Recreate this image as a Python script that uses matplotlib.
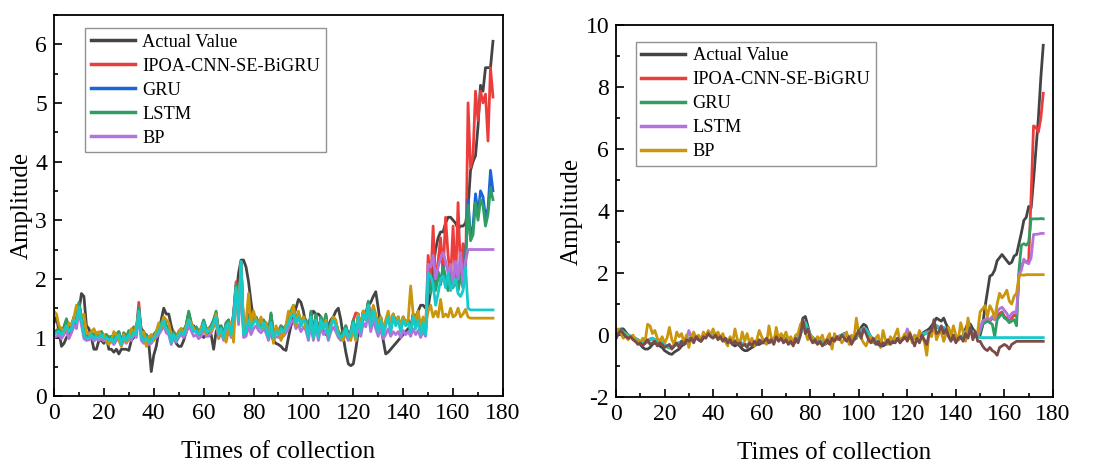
import numpy as np
import matplotlib.pyplot as plt
from matplotlib.ticker import MultipleLocator

plt.rcParams['font.family'] = 'Liberation Serif'
plt.rcParams['axes.unicode_minus'] = False

t = np.arange(177)

# ---------- data set 1 ----------
act1 = [1.25, 1.35, 1.10, 0.85, 0.90, 1.00, 1.05, 1.10, 1.20, 1.30,
        1.45, 1.75, 1.70, 1.20, 1.15, 1.00, 0.80, 0.80, 0.95, 0.95,
        0.90, 1.00, 0.80, 0.80, 0.75, 0.80, 0.72, 0.80, 0.80, 0.80,
        0.78, 0.95, 1.00, 1.10, 1.40, 1.15, 1.10, 1.00, 0.90, 0.42,
        0.70, 0.85, 1.10, 1.30, 1.50, 1.40, 1.40, 1.20, 1.05, 0.90,
        0.85, 0.85, 0.95, 1.10, 1.20, 1.15, 1.20, 1.10, 1.05, 1.05,
        1.00, 1.05, 1.10, 1.05, 0.80, 1.10, 1.20, 1.10, 1.05, 1.00,
        1.10, 1.20, 1.30, 1.70, 2.10, 2.32, 2.32, 2.20, 1.95, 1.60,
        1.30, 1.30, 1.25, 1.20, 1.25, 1.25, 1.15, 1.05, 0.95, 0.90,
        0.88, 0.85, 0.80, 0.78, 1.00, 1.20, 1.35, 1.50, 1.65, 1.60,
        1.45, 1.20, 1.20, 1.35, 1.45, 1.40, 1.40, 1.35, 1.10, 1.05,
        1.20, 1.30, 1.35, 1.45, 1.50, 1.30, 1.00, 0.75, 0.55, 0.52,
        0.55, 0.80, 1.10, 1.25, 1.30, 1.40, 1.55, 1.60, 1.70, 1.78,
        1.50, 1.20, 0.95, 0.72, 0.75, 0.80, 0.85, 0.90, 0.95, 1.00,
        1.05, 1.10, 1.15, 1.20, 1.25, 1.35, 1.45, 1.55, 1.55, 1.50,
        1.50, 1.80, 2.20, 2.50, 2.70, 2.80, 2.80, 2.95, 3.05, 3.05,
        3.00, 2.95, 2.85, 2.90, 2.90, 2.95, 3.20, 3.85, 4.00, 4.10,
        4.60, 5.30, 5.20, 5.60, 5.60, 5.60, 6.05]

ipoa1 = [1.10, 1.12, 1.15, 1.10, 1.18, 1.30, 1.15, 1.20, 1.35, 1.30,
         1.58, 1.35, 1.08, 1.00, 1.05, 1.10, 1.02, 1.08, 1.05, 1.10,
         1.02, 1.05, 1.00, 1.02, 0.98, 1.05, 1.10, 0.92, 1.08, 1.00,
         1.10, 1.05, 1.18, 1.10, 1.60, 1.05, 1.00, 1.05, 0.98, 1.00,
         1.05, 1.10, 1.18, 1.25, 1.33, 1.20, 1.15, 0.98, 1.10, 1.00,
         1.10, 1.15, 1.12, 1.20, 1.42, 1.25, 1.15, 1.18, 1.10, 1.15,
         1.28, 1.15, 1.15, 1.20, 1.30, 1.42, 1.10, 1.20, 1.05, 1.25,
         1.30, 1.10, 1.40, 1.95, 1.35, 2.28, 1.10, 1.15, 1.40, 1.20,
         1.30, 1.35, 1.25, 1.20, 1.30, 1.20, 1.05, 1.40, 1.05, 1.15,
         1.10, 1.20, 1.15, 1.20, 1.35, 1.45, 1.52, 1.30, 1.40, 1.25,
         1.35, 1.30, 1.05, 1.42, 1.05, 1.38, 1.05, 1.35, 1.20, 1.38,
         1.05, 1.25, 1.35, 1.25, 1.10, 1.05, 1.10, 1.20, 1.05, 1.10,
         1.30, 1.42, 1.40, 1.15, 1.45, 1.35, 1.60, 1.25, 1.50, 1.35,
         1.15, 1.35, 1.10, 1.25, 1.40, 1.15, 1.40, 1.25, 1.35, 1.15,
         1.35, 1.25, 1.30, 1.15, 1.40, 1.20, 1.35, 1.10, 1.30, 1.10,
         2.40, 1.90, 2.90, 1.90, 2.30, 2.70, 2.10, 3.05, 2.40, 2.00,
         2.90, 1.90, 3.30, 2.10, 2.60, 2.00, 5.00, 3.90, 4.10, 5.20,
         4.70, 5.20, 5.00, 5.15, 4.35, 5.60, 5.10]

gru1 = [1.08, 1.10, 1.14, 1.08, 1.16, 1.28, 1.12, 1.18, 1.33, 1.28,
        1.56, 1.33, 1.06, 0.99, 1.03, 1.08, 1.00, 1.06, 1.03, 1.08,
        1.00, 1.03, 0.98, 1.00, 0.96, 1.03, 1.08, 0.90, 1.06, 0.98,
        1.10, 1.03, 1.15, 1.08, 1.48, 1.03, 0.98, 1.03, 0.96, 0.98,
        1.03, 1.08, 1.15, 1.22, 1.32, 1.18, 1.13, 0.96, 1.08, 0.98,
        1.08, 1.13, 1.10, 1.20, 1.40, 1.23, 1.13, 1.16, 1.08, 1.13,
        1.28, 1.13, 1.13, 1.18, 1.28, 1.40, 1.08, 1.18, 1.03, 1.23,
        1.28, 1.08, 1.38, 1.88, 1.33, 2.28, 1.08, 1.13, 1.33, 1.18,
        1.28, 1.33, 1.23, 1.18, 1.28, 1.18, 1.03, 1.38, 1.03, 1.13,
        1.08, 1.18, 1.13, 1.18, 1.32, 1.42, 1.50, 1.28, 1.40, 1.23,
        1.33, 1.28, 1.03, 1.42, 1.03, 1.36, 1.03, 1.33, 1.18, 1.36,
        1.03, 1.23, 1.33, 1.23, 1.08, 1.03, 1.08, 1.18, 1.03, 1.08,
        1.28, 1.03, 1.38, 1.13, 1.43, 1.33, 1.60, 1.23, 1.48, 1.33,
        1.13, 1.33, 1.08, 1.23, 1.38, 1.13, 1.38, 1.23, 1.33, 1.13,
        1.33, 1.23, 1.28, 1.13, 1.38, 1.18, 1.33, 1.08, 1.28, 1.08,
        2.00, 1.78, 2.02, 1.82, 2.12, 1.92, 2.22, 2.02, 1.82, 2.08,
        1.88, 2.02, 1.82, 2.08, 1.88, 2.32, 3.35, 2.70, 2.90, 3.45,
        3.10, 3.50, 3.40, 3.05, 3.20, 3.85, 3.50]

lstm1 = [1.10, 1.12, 1.15, 1.10, 1.18, 1.32, 1.15, 1.20, 1.35, 1.30,
         1.60, 1.35, 1.08, 1.00, 1.05, 1.10, 1.02, 1.08, 1.05, 1.10,
         1.02, 1.05, 1.00, 1.02, 0.98, 1.05, 1.10, 0.92, 1.08, 1.00,
         1.12, 1.05, 1.18, 1.10, 1.52, 1.05, 1.00, 1.05, 0.98, 1.00,
         1.05, 1.10, 1.18, 1.25, 1.35, 1.20, 1.15, 0.98, 1.10, 1.00,
         1.10, 1.15, 1.12, 1.22, 1.45, 1.25, 1.15, 1.18, 1.10, 1.15,
         1.30, 1.15, 1.15, 1.20, 1.30, 1.45, 1.10, 1.20, 1.05, 1.25,
         1.30, 1.10, 1.40, 1.90, 1.35, 2.28, 1.10, 1.15, 1.35, 1.20,
         1.30, 1.35, 1.25, 1.20, 1.30, 1.20, 1.05, 1.42, 1.05, 1.15,
         1.10, 1.20, 1.15, 1.20, 1.35, 1.45, 1.55, 1.30, 1.42, 1.25,
         1.35, 1.30, 1.05, 1.45, 1.05, 1.40, 1.05, 1.35, 1.20, 1.40,
         1.05, 1.25, 1.35, 1.25, 1.10, 1.05, 1.10, 1.20, 1.05, 1.10,
         1.30, 1.05, 1.40, 1.15, 1.45, 1.35, 1.62, 1.25, 1.50, 1.35,
         1.15, 1.35, 1.10, 1.25, 1.40, 1.15, 1.40, 1.25, 1.35, 1.15,
         1.35, 1.25, 1.30, 1.15, 1.40, 1.20, 1.35, 1.10, 1.30, 1.10,
         2.05, 1.75, 2.00, 1.80, 2.10, 1.90, 2.20, 2.00, 1.80, 2.05,
         1.85, 2.00, 1.80, 2.05, 1.85, 2.30, 3.25, 2.65, 2.75, 3.30,
         3.00, 3.35, 3.25, 2.90, 3.10, 3.55, 3.35]

bp1 = [1.00, 1.02, 1.05, 0.98, 1.05, 1.12, 0.98, 1.08, 1.22, 1.15,
       1.45, 1.22, 0.98, 0.95, 0.96, 1.00, 0.94, 0.98, 0.95, 0.98,
       0.94, 0.96, 0.90, 0.94, 0.88, 0.95, 1.00, 0.85, 0.96, 0.90,
       0.98, 0.95, 1.05, 1.00, 1.40, 0.95, 0.90, 0.95, 0.88, 0.90,
       0.96, 1.00, 1.05, 1.12, 1.20, 1.08, 1.05, 0.88, 1.00, 0.92,
       1.00, 1.05, 1.00, 1.08, 1.22, 1.12, 1.02, 1.05, 0.98, 1.02,
       1.15, 1.02, 1.02, 1.08, 1.18, 1.25, 0.98, 1.08, 0.95, 1.12,
       1.18, 1.00, 1.28, 1.75, 1.22, 2.20, 1.00, 1.02, 1.20, 1.05,
       1.15, 1.20, 1.12, 1.08, 1.15, 1.08, 0.95, 1.15, 0.95, 1.02,
       1.00, 1.08, 1.02, 1.08, 1.15, 1.25, 1.30, 1.15, 1.22, 1.10,
       1.18, 1.12, 0.95, 1.22, 0.95, 1.18, 0.95, 1.18, 1.05, 1.12,
       0.95, 1.10, 1.18, 1.10, 1.00, 0.95, 1.00, 1.05, 0.95, 1.00,
       1.12, 0.95, 1.20, 1.02, 1.25, 1.18, 1.40, 1.10, 1.30, 1.15,
       1.02, 1.15, 0.98, 1.05, 1.15, 1.02, 1.10, 1.05, 1.10, 1.00,
       1.12, 1.05, 1.10, 1.02, 1.15, 1.05, 1.12, 1.00, 1.10, 1.02,
       2.25, 2.20, 2.40, 2.00, 2.20, 2.35, 2.45, 2.30, 2.10, 2.25,
       1.90, 2.30, 2.00, 2.45, 1.85, 2.30, 2.50, 2.50, 2.50, 2.50,
       2.50, 2.50, 2.50, 2.50, 2.50, 2.50, 2.50]

cyan1 = [1.05, 1.08, 1.10, 1.05, 1.12, 1.20, 1.10, 1.15, 1.30, 1.25,
         1.52, 1.30, 1.05, 0.98, 1.00, 1.05, 0.98, 1.02, 1.00, 1.05,
         0.98, 1.00, 0.95, 0.98, 0.92, 1.00, 1.05, 0.88, 1.02, 0.95,
         1.05, 1.00, 1.10, 1.05, 1.45, 1.00, 0.95, 1.00, 0.92, 0.95,
         1.00, 1.05, 1.10, 1.20, 1.28, 1.15, 1.10, 0.92, 1.05, 0.95,
         1.05, 1.10, 1.05, 1.15, 1.30, 1.20, 1.10, 1.12, 1.05, 1.10,
         1.25, 1.10, 1.10, 1.15, 1.25, 1.35, 1.05, 1.15, 1.00, 1.20,
         1.25, 1.05, 1.35, 1.85, 1.30, 2.30, 1.05, 1.10, 1.30, 1.15,
         1.25, 1.30, 1.20, 1.15, 1.25, 1.15, 1.00, 1.25, 1.00, 1.10,
         1.05, 1.15, 1.10, 1.15, 1.25, 1.35, 1.40, 1.25, 1.35, 1.20,
         1.30, 1.25, 1.00, 1.35, 1.00, 1.30, 1.00, 1.30, 1.15, 1.25,
         1.00, 1.20, 1.30, 1.20, 1.05, 1.00, 1.05, 1.15, 1.00, 1.05,
         1.25, 1.00, 1.35, 1.10, 1.40, 1.30, 1.55, 1.20, 1.45, 1.30,
         1.10, 1.30, 1.05, 1.20, 1.35, 1.10, 1.35, 1.20, 1.30, 1.10,
         1.30, 1.20, 1.25, 1.10, 1.35, 1.15, 1.30, 1.05, 1.25, 1.05,
         2.10, 2.05, 1.90, 1.55, 1.75, 2.00, 2.05, 1.85, 2.10, 1.80,
         1.90, 2.00, 1.75, 1.70, 1.80, 2.20, 1.50, 1.47, 1.47, 1.47,
         1.47, 1.47, 1.47, 1.47, 1.47, 1.47, 1.47]

gold1 = [1.45, 1.40, 1.20, 1.15, 1.10, 1.15, 1.25, 1.20, 1.35, 1.55,
         1.45, 1.35, 1.40, 1.10, 1.05, 1.10, 1.15, 1.05, 1.10, 1.00,
         1.05, 0.95, 0.88, 0.95, 1.10, 1.05, 0.95, 0.85, 1.05, 0.92,
         1.00, 1.15, 1.05, 1.20, 1.40, 1.05, 1.10, 0.85, 1.00, 1.05,
         0.95, 1.10, 1.25, 1.15, 1.35, 1.30, 1.25, 1.05, 1.00, 0.98,
         1.10, 1.15, 1.05, 1.20, 1.30, 1.25, 1.15, 1.10, 1.05, 1.18,
         1.20, 1.05, 1.15, 1.10, 1.20, 1.40, 1.00, 1.10, 1.05, 0.92,
         1.15, 1.25, 0.92, 1.80, 1.45, 2.25, 1.15, 1.25, 1.75, 1.20,
         1.45, 1.30, 1.20, 1.35, 1.15, 1.25, 1.10, 1.20, 0.90, 1.20,
         1.10, 0.95, 1.05, 1.20, 1.45, 1.35, 1.55, 1.20, 1.45, 1.20,
         1.35, 1.15, 1.10, 1.25, 1.00, 1.25, 1.05, 1.15, 1.20, 1.30,
         1.00, 1.20, 1.35, 1.30, 1.05, 1.00, 0.95, 1.10, 1.05, 0.95,
         1.20, 0.95, 1.40, 1.15, 1.45, 1.35, 1.50, 1.25, 1.55, 1.40,
         1.20, 1.35, 1.15, 1.30, 1.45, 1.20, 1.40, 1.25, 1.35, 1.20,
         1.35, 1.25, 1.30, 1.88, 1.40, 1.30, 1.45, 1.20, 1.35, 1.20,
         1.45, 1.55, 1.35, 1.45, 1.35, 1.65, 1.35, 1.40, 1.35, 1.50,
         1.35, 1.38, 1.50, 1.35, 1.40, 1.48, 1.35, 1.33, 1.33, 1.33,
         1.33, 1.33, 1.33, 1.33, 1.33, 1.33, 1.33]

# ---------- data set 2 ----------
act2 = [-0.10, 0.05, 0.20, 0.20, 0.10, 0.00, -0.05, -0.10, -0.20, -0.25,
        -0.30, -0.40, -0.45, -0.45, -0.40, -0.30, -0.25, -0.30, -0.35, -0.40,
        -0.50, -0.55, -0.60, -0.62, -0.55, -0.50, -0.45, -0.35, -0.30, -0.25,
        -0.20, -0.15, -0.10, -0.10, -0.15, -0.20, -0.10, 0.00, 0.05, 0.00,
        -0.05, 0.05, 0.00, -0.10, -0.15, -0.20, -0.25, -0.20, -0.30, -0.35,
        -0.30, -0.35, -0.45, -0.50, -0.50, -0.45, -0.40, -0.35, -0.30, -0.30,
        -0.25, -0.25, -0.20, -0.25, -0.20, -0.15, -0.10, -0.10, -0.05, -0.15,
        -0.20, -0.20, -0.25, -0.30, -0.20, -0.10, 0.20, 0.55, 0.60, 0.30,
        0.00, -0.10, -0.20, -0.25, -0.25, -0.30, -0.30, -0.25, -0.20, -0.15,
        -0.10, -0.10, -0.05, 0.00, 0.05, 0.00, -0.10, -0.20, -0.15, -0.10,
        0.10, 0.25, 0.35, 0.30, 0.10, -0.10, -0.20, -0.25, -0.30, -0.35,
        -0.35, -0.30, -0.25, -0.20, -0.25, -0.20, -0.15, -0.20, -0.15, -0.10,
        -0.05, -0.10, -0.15, -0.10, -0.05, 0.00, 0.05, 0.10, 0.15, 0.20,
        0.30, 0.40, 0.55, 0.50, 0.45, 0.55, 0.35, 0.20, 0.00, -0.10,
        -0.20, -0.15, -0.10, 0.00, 0.20, 0.40, 0.35, 0.20, 0.10, -0.05,
        0.00, 0.30, 0.90, 1.40, 1.90, 1.95, 2.10, 2.40, 2.50, 2.60,
        2.50, 2.40, 2.30, 2.35, 2.55, 2.60, 2.95, 3.30, 3.70, 3.80,
        4.15, 4.10, 5.00, 6.00, 7.00, 8.30, 9.35]

ipoa2 = [0.05, 0.10, 0.15, 0.10, 0.05, 0.00, -0.05, -0.08, -0.12, -0.15,
         -0.22, -0.25, -0.27, -0.20, -0.15, -0.12, -0.15, -0.22, -0.20, -0.25,
         -0.30, -0.35, -0.40, -0.38, -0.33, -0.30, -0.25, -0.22, -0.18, -0.12,
         -0.12, -0.08, -0.05, -0.05, -0.10, -0.10, -0.05, 0.00, 0.02, 0.00,
         -0.02, 0.02, 0.00, -0.05, -0.10, -0.12, -0.17, -0.12, -0.18, -0.22,
         -0.18, -0.20, -0.28, -0.30, -0.32, -0.28, -0.25, -0.22, -0.20, -0.20,
         -0.18, -0.20, -0.15, -0.18, -0.15, -0.10, -0.08, -0.10, -0.05, -0.10,
         -0.12, -0.15, -0.18, -0.20, -0.15, -0.08, 0.05, 0.30, 0.42, 0.20,
         0.00, -0.08, -0.15, -0.18, -0.20, -0.22, -0.22, -0.20, -0.15, -0.12,
         -0.08, -0.08, -0.05, 0.00, 0.02, 0.00, -0.08, -0.12, -0.10, -0.05,
         0.05, 0.15, 0.20, 0.18, 0.05, -0.05, -0.15, -0.20, -0.22, -0.25,
         -0.28, -0.25, -0.20, -0.18, -0.20, -0.15, -0.12, -0.15, -0.12, -0.08,
         -0.05, -0.08, -0.10, -0.08, -0.05, 0.00, 0.02, 0.05, 0.08, 0.10,
         0.15, 0.20, 0.30, 0.25, 0.20, 0.25, 0.15, 0.10, 0.00, -0.08,
         -0.15, -0.12, -0.08, -0.02, 0.10, 0.20, 0.15, 0.10, 0.05, -0.05,
         0.20, 0.40, 0.45, 0.50, 0.45, 0.55, 0.50, 0.60, 0.70, 0.75,
         0.60, 0.55, 0.50, 0.55, 0.65, 0.60, 1.95, 2.20, 2.40, 2.35,
         2.40, 4.50, 6.75, 6.70, 6.55, 7.00, 7.80]

gru2 = [0.08, 0.12, 0.18, 0.12, 0.05, 0.02, -0.05, -0.05, -0.12, -0.18,
        -0.22, -0.28, -0.25, -0.22, -0.15, -0.10, -0.18, -0.22, -0.22, -0.28,
        -0.32, -0.38, -0.42, -0.40, -0.35, -0.30, -0.28, -0.20, -0.20, -0.15,
        -0.10, -0.12, -0.05, -0.08, -0.08, -0.12, -0.05, 0.02, 0.05, 0.00,
        0.00, 0.05, 0.00, -0.08, -0.10, -0.15, -0.15, -0.15, -0.20, -0.20,
        -0.20, -0.22, -0.30, -0.32, -0.30, -0.30, -0.25, -0.25, -0.20, -0.22,
        -0.18, -0.20, -0.15, -0.20, -0.15, -0.12, -0.08, -0.10, -0.05, -0.12,
        -0.12, -0.18, -0.18, -0.22, -0.15, -0.10, 0.05, 0.32, 0.40, 0.22,
        0.00, -0.10, -0.15, -0.20, -0.20, -0.25, -0.22, -0.22, -0.15, -0.15,
        -0.08, -0.10, -0.05, -0.02, 0.02, -0.02, -0.08, -0.15, -0.10, -0.08,
        0.05, 0.18, 0.20, 0.20, 0.05, -0.08, -0.15, -0.22, -0.22, -0.28,
        -0.28, -0.28, -0.20, -0.20, -0.20, -0.18, -0.12, -0.18, -0.12, -0.10,
        -0.05, 0.05, -0.10, -0.10, -0.05, -0.02, 0.02, 0.02, 0.08, 0.08,
        0.15, 0.18, 0.30, 0.22, 0.20, 0.22, 0.15, 0.08, 0.00, -0.10,
        -0.15, -0.15, -0.08, -0.05, 0.10, 0.18, 0.15, 0.08, 0.05, -0.08,
        0.10, 0.35, 0.40, 0.45, 0.40, 0.35, -0.05, 0.50, 0.60, 0.70,
        0.55, 0.50, 0.40, 0.45, 0.50, 0.30, 2.10, 2.90, 2.95, 2.90,
        3.00, 3.75, 3.75, 3.75, 3.75, 3.76, 3.75]

lstm2 = [0.02, 0.08, 0.12, 0.08, 0.02, 0.00, -0.08, -0.05, -0.12, -0.15,
         -0.20, -0.25, -0.25, -0.20, -0.12, -0.10, -0.15, -0.18, -0.20, -0.25,
         -0.30, -0.35, -0.38, -0.38, -0.32, -0.28, -0.25, -0.20, -0.18, -0.12,
         0.15, -0.10, -0.05, -0.05, -0.08, -0.10, -0.02, 0.00, 0.02, 0.02,
         -0.02, 0.02, 0.02, -0.05, -0.10, -0.10, -0.15, -0.10, -0.18, -0.18,
         -0.18, -0.18, -0.28, -0.28, -0.30, -0.28, -0.22, -0.22, -0.18, -0.20,
         -0.15, -0.18, -0.12, -0.18, -0.12, -0.10, -0.05, -0.08, -0.05, -0.10,
         -0.10, -0.15, -0.15, -0.20, -0.12, -0.08, 0.08, 0.28, 0.40, 0.18,
         0.02, -0.08, -0.12, -0.18, -0.20, -0.20, -0.20, -0.18, -0.12, -0.12,
         -0.05, -0.08, -0.02, 0.00, 0.02, 0.00, -0.05, -0.12, -0.08, -0.05,
         0.08, 0.15, 0.22, 0.18, 0.08, -0.05, -0.12, -0.18, -0.20, -0.22,
         -0.25, -0.25, -0.18, -0.18, -0.18, -0.15, -0.10, -0.15, -0.10, -0.08,
         0.20, -0.05, -0.08, -0.08, -0.02, 0.00, 0.05, 0.05, 0.10, 0.10,
         0.15, 0.22, 0.28, 0.25, 0.18, 0.25, 0.12, 0.10, 0.02, -0.08,
         -0.12, -0.12, -0.05, -0.02, 0.12, 0.22, 0.15, 0.12, 0.05, -0.05,
         0.20, 0.45, 0.50, 0.55, 0.50, 0.60, 0.50, 0.75, 0.85, 0.90,
         0.80, 0.70, 0.55, 0.70, 0.75, 0.70, 1.95, 2.10, 2.45, 2.35,
         2.30, 2.50, 3.25, 3.25, 3.26, 3.28, 3.28]

cyan2 = [0.05, 0.10, 0.15, 0.10, 0.05, 0.00, -0.05, -0.05, -0.10, -0.15,
         -0.20, -0.25, -0.25, -0.20, -0.15, -0.10, -0.15, -0.20, -0.20, -0.25,
         -0.30, -0.35, -0.40, -0.38, -0.35, -0.30, -0.25, -0.20, -0.18, -0.15,
         -0.12, -0.10, -0.05, -0.05, -0.08, -0.10, -0.05, 0.00, 0.02, 0.00,
         -0.02, 0.02, 0.00, -0.05, -0.10, -0.12, -0.15, -0.12, -0.18, -0.20,
         -0.18, -0.20, -0.28, -0.30, -0.30, -0.28, -0.25, -0.22, -0.20, -0.20,
         -0.18, -0.18, -0.15, -0.18, -0.15, -0.10, -0.08, -0.08, -0.05, -0.10,
         -0.12, -0.15, -0.18, -0.20, -0.15, -0.08, 0.05, 0.30, 0.40, 0.20,
         0.00, -0.08, -0.15, -0.18, -0.20, -0.22, -0.22, -0.20, -0.15, -0.12,
         -0.08, -0.08, -0.05, 0.00, 0.02, 0.00, -0.08, -0.12, -0.10, -0.05,
         0.05, 0.15, 0.20, 0.18, 0.05, -0.05, -0.15, -0.20, -0.22, -0.25,
         -0.28, -0.25, -0.20, -0.18, -0.20, -0.15, -0.12, -0.15, -0.12, -0.08,
         -0.05, -0.08, -0.10, -0.08, -0.05, 0.00, 0.02, 0.05, 0.08, 0.10,
         0.15, 0.20, 0.30, 0.25, 0.20, 0.25, 0.15, 0.10, 0.00, -0.08,
         -0.15, -0.12, -0.08, -0.02, 0.10, 0.20, 0.15, 0.10, 0.05, -0.05,
         -0.08, -0.08, -0.08, -0.08, -0.08, -0.08, -0.08, -0.08, -0.08, -0.08,
         -0.08, -0.08, -0.08, -0.08, -0.08, -0.08, -0.08, -0.08, -0.08, -0.08,
         -0.08, -0.08, -0.08, -0.08, -0.08, -0.08, -0.08]

bp2 = [0.15, 0.20, 0.05, -0.10, 0.00, -0.15, -0.05, 0.00, -0.20, -0.15,
       -0.25, -0.10, -0.20, 0.35, 0.30, 0.05, 0.15, -0.10, -0.20, -0.05,
       -0.25, -0.10, 0.25, -0.15, -0.30, 0.10, -0.05, 0.05, -0.25, 0.00,
       -0.40, -0.05, 0.10, -0.10, 0.00, -0.15, 0.10, -0.05, 0.15, 0.00,
       0.20, -0.05, 0.10, -0.10, 0.05, -0.20, -0.35, -0.05, -0.25, 0.20,
       -0.15, -0.30, 0.10, -0.20, 0.05, -0.25, -0.10, -0.35, -0.15, 0.15,
       -0.05, -0.20, -0.30, 0.30, -0.10, -0.25, 0.25, -0.15, 0.05, -0.10,
       0.10, -0.15, -0.05, -0.25, 0.00, 0.05, 0.35, 0.45, 0.10, -0.15,
       0.00, -0.10, -0.25, -0.05, -0.15, 0.00, -0.30, -0.10, 0.05, -0.45,
       0.05, -0.15, -0.05, -0.25, -0.15, 0.10, -0.30, 0.00, -0.15, 0.55,
       0.05, -0.10, -0.25, -0.35, -0.15, -0.05, -0.25, -0.10, 0.00, -0.40,
       0.15, -0.15, -0.30, -0.05, -0.20, 0.00, 0.20, -0.25, -0.10, 0.05,
       -0.15, 0.10, -0.25, 0.00, -0.20, 0.15, -0.10, -0.20, -0.65, 0.10,
       -0.05, 0.40, -0.15, 0.05, 0.10, -0.20, 0.05, 0.25, -0.05, 0.30,
       0.00, -0.15, 0.40, 0.10, -0.20, 0.55, 0.10, 0.05, -0.05, 0.10,
       0.75, 0.85, 0.95, 0.60, 0.95, 0.80, 0.55, 1.00, 1.35, 1.20,
       1.30, 1.45, 1.10, 1.00, 1.25, 1.35, 1.90, 1.95, 1.93, 1.95,
       1.95, 1.95, 1.95, 1.95, 1.95, 1.95, 1.95]

brown2 = [-0.10, 0.05, 0.15, 0.05, -0.05, -0.10, -0.05, -0.15, -0.20, -0.30,
          -0.25, -0.35, -0.25, -0.15, -0.30, -0.25, -0.20, -0.35, -0.25, -0.30,
          -0.40, -0.35, -0.30, -0.45, -0.35, -0.25, -0.40, -0.20, -0.30, -0.15,
          -0.20, -0.10, -0.25, -0.05, -0.15, -0.20, -0.05, -0.10, 0.05, -0.05,
          -0.10, 0.00, -0.15, -0.05, -0.20, -0.10, -0.25, -0.15, -0.30, -0.20,
          -0.30, -0.25, -0.35, -0.30, -0.40, -0.25, -0.35, -0.20, -0.30, -0.15,
          -0.25, -0.20, -0.10, -0.25, -0.15, -0.30, -0.05, -0.20, -0.10, -0.25,
          -0.15, -0.30, -0.20, -0.35, -0.10, -0.25, 0.00, 0.50, 0.05, 0.20,
          -0.10, -0.25, -0.15, -0.30, -0.20, -0.35, -0.25, -0.15, -0.30, -0.10,
          -0.20, -0.05, -0.15, 0.00, -0.10, -0.20, -0.05, -0.30, -0.15, 0.00,
          0.15, -0.10, 0.20, 0.05, -0.15, -0.25, -0.10, -0.30, -0.20, -0.35,
          -0.25, -0.30, -0.15, -0.30, -0.20, -0.25, -0.10, -0.25, -0.15, -0.05,
          -0.20, 0.05, -0.15, -0.35, -0.10, -0.25, 0.00, -0.15, -0.30, 0.05,
          0.15, 0.50, 0.05, 0.10, 0.30, 0.05, 0.20, -0.05, -0.20, 0.00,
          -0.25, -0.10, -0.05, -0.20, 0.05, -0.10, 0.25, -0.15, 0.10, -0.20,
          -0.20, -0.35, -0.45, -0.50, -0.40, -0.50, -0.55, -0.65, -0.40, -0.35,
          -0.30, -0.35, -0.45, -0.30, -0.25, -0.20, -0.20, -0.20, -0.20, -0.20,
          -0.20, -0.20, -0.20, -0.20, -0.20, -0.20, -0.20]

c_act = '#444444'
c_red = '#ec3d3d'
c_blue = '#1c64dc'
c_green = '#2e9e62'
c_purple = '#b274dc'
c_gold = '#c9960c'
c_cyan = '#18c9c9'
c_brown = '#7a4b49'
lw = 2.0

fig = plt.figure(figsize=(11.02, 4.65), dpi=100)
ax1 = fig.add_axes([0.049, 0.148, 0.4074, 0.820])
ax2 = fig.add_axes([0.559, 0.146, 0.3965, 0.800])

ax1.plot(t, act1, color=c_act, lw=lw, label='Actual Value')
ax1.plot(t, ipoa1, color=c_red, lw=lw, label='IPOA-CNN-SE-BiGRU')
ax1.plot(t, gru1, color=c_blue, lw=lw, label='GRU')
ax1.plot(t, lstm1, color=c_green, lw=lw, label='LSTM')
ax1.plot(t, bp1, color=c_purple, lw=lw, label='BP')
ax1.plot(t, gold1, color=c_gold, lw=lw)
ax1.plot(t, cyan1, color=c_cyan, lw=lw)

ax2.plot(t, act2, color=c_act, lw=lw, label='Actual Value')
ax2.plot(t, ipoa2, color=c_red, lw=lw, label='IPOA-CNN-SE-BiGRU')
ax2.plot(t, gru2, color=c_green, lw=lw, label='GRU')
ax2.plot(t, lstm2, color=c_purple, lw=lw, label='LSTM')
ax2.plot(t, cyan2, color=c_cyan, lw=lw)
ax2.plot(t, bp2, color=c_gold, lw=lw, label='BP')
ax2.plot(t, brown2, color=c_brown, lw=lw)

ax1.set_ylim(0, 6.5)
ax1.yaxis.set_major_locator(MultipleLocator(1))
ax1.yaxis.set_minor_locator(MultipleLocator(0.5))
ax2.set_ylim(-2, 10)
ax2.yaxis.set_major_locator(MultipleLocator(2))
ax2.yaxis.set_minor_locator(MultipleLocator(1))

for ax in (ax1, ax2):
    ax.set_xlim(0, 180)
    ax.xaxis.set_major_locator(MultipleLocator(20))
    ax.xaxis.set_minor_locator(MultipleLocator(10))
    ax.tick_params(which='both', direction='in', top=False, right=False,
                   labelsize=17, width=1.2, pad=5)
    ax.tick_params(which='major', length=6)
    ax.tick_params(which='minor', length=3)
    for s in ax.spines.values():
        s.set_linewidth(1.3)
    ax.set_xlabel('Times of collection', fontsize=18, labelpad=12)
    ax.set_ylabel('Amplitude', fontsize=18, labelpad=2)

leg1 = ax1.legend(loc='upper left', bbox_to_anchor=(0.07, 0.965), fontsize=13.2,
                  frameon=True, fancybox=False, edgecolor='#777777',
                  handlelength=2.4, labelspacing=0.38, borderpad=0.3,
                  handletextpad=0.4, borderaxespad=0)
leg2 = ax2.legend(loc='upper left', bbox_to_anchor=(0.045, 0.955), fontsize=13.2,
                  frameon=True, fancybox=False, edgecolor='#777777',
                  handlelength=2.4, labelspacing=0.38, borderpad=0.3,
                  handletextpad=0.4, borderaxespad=0)
for leg in (leg1, leg2):
    leg.get_frame().set_linewidth(1.0)
    for h in leg.get_lines():
        h.set_linewidth(2.5)

fig.savefig('out.png', dpi=100)
